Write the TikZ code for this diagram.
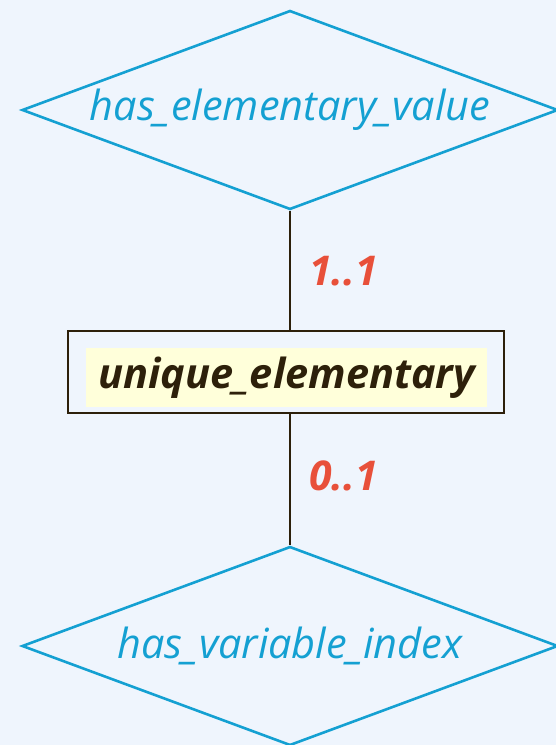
\documentclass[tikz,border=0pt]{standalone}
\usepackage{fontspec}
\setmainfont{Open Sans}
\usetikzlibrary{positioning, shapes.geometric}
\definecolor{pagebg}{RGB}{239,245,253}
\definecolor{relblue}{RGB}{20,160,210}
\definecolor{entbrown}{RGB}{45,32,10}
\definecolor{cardred}{RGB}{232,80,58}
\definecolor{entfill}{RGB}{255,255,218}

\begin{document}
\begin{tikzpicture}[x=1pt, y=-1pt,
    relation/.style={diamond, draw=relblue, line width=2.6pt, aspect=2.69, minimum width=536pt, minimum height=199pt, inner sep=0pt, text=relblue, font=\itshape\fontsize{41.5}{48}\selectfont},
    entity/.style={rectangle, draw=entbrown, line width=2.6pt, minimum width=436pt, minimum height=82pt},
    entitytext/.style={rectangle, fill=entfill, text=entbrown, minimum width=401pt, minimum height=59pt, inner sep=0pt, font=\bfseries\itshape\fontsize{41.5}{48}\selectfont},
    link/.style={draw=entbrown, line width=2.6pt},
    cardlabel/.style={text=cardred, font=\bfseries\itshape\fontsize{41}{47}\selectfont, inner sep=0pt}
]
\useasboundingbox[fill=pagebg] (0,0) rectangle (556,745);

\node[relation] (elemvalue) at (290,110) {has\_elementary\_value};
\node[relation] (varindex) at (290,646) {has\_variable\_index};

\node[entity] (unique) at (286,372) {};
\node[entitytext] (uniquetext) at (286.5,377.5) {unique\_elementary};

\draw[link] (elemvalue.south) --
    node[cardlabel,right,xshift=18pt,yshift=-1pt] {1..1} (elemvalue.south |- unique.north);
\draw[link] (elemvalue.south |- unique.south) --
    node[cardlabel,right,xshift=18pt,yshift=4pt] {0..1} (varindex.north);
\end{tikzpicture}
\end{document}
